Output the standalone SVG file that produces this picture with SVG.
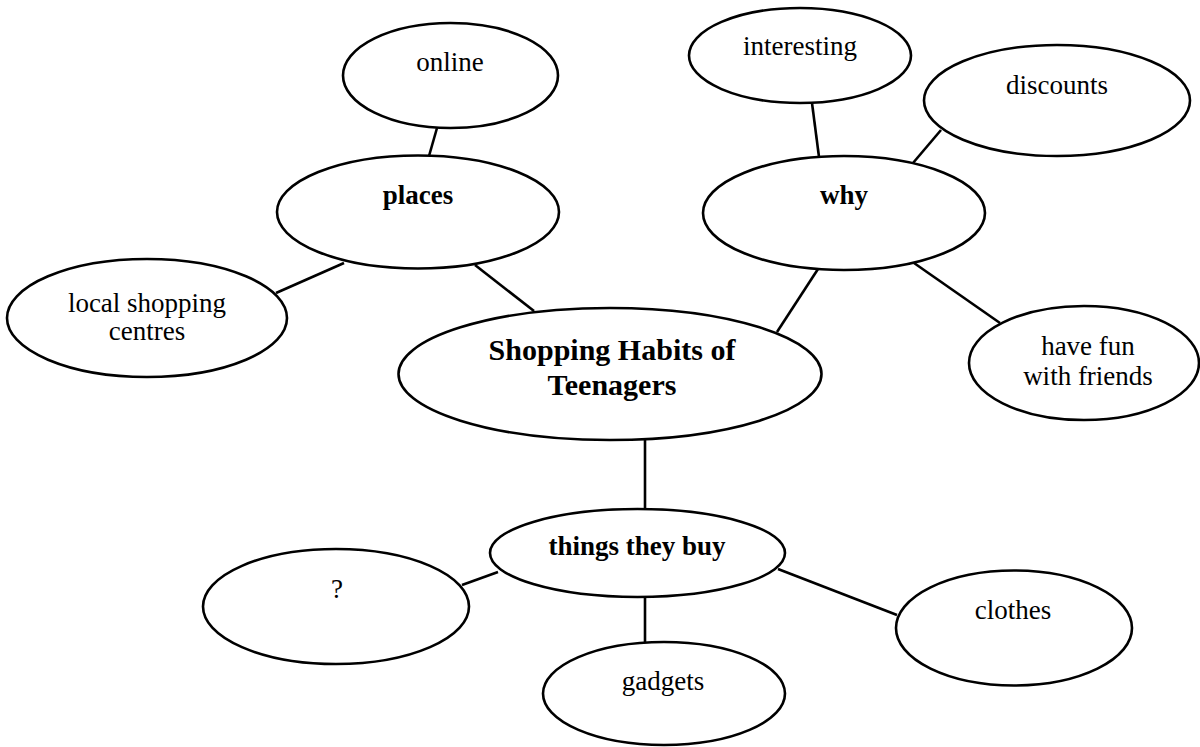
<svg xmlns="http://www.w3.org/2000/svg" width="1200" height="747" viewBox="0 0 1200 747">
<style>
.n{fill:#fff;stroke:#000;stroke-width:2.6}
.c{stroke:#000;stroke-width:2.6;fill:none}
text{font-family:"Liberation Serif","Times New Roman",serif;font-size:27px;fill:#000;text-anchor:middle}
.b{font-weight:bold}
.t{font-weight:bold;font-size:30px}
</style>
<rect width="1200" height="747" fill="#fff"/>
<g id="connectors">
<line class="c" x1="437" y1="128" x2="429" y2="156"/>
<line class="c" x1="344" y1="263" x2="276" y2="293"/>
<line class="c" x1="475" y1="265" x2="534" y2="311"/>
<line class="c" x1="812" y1="103" x2="819" y2="157"/>
<line class="c" x1="941" y1="130" x2="913" y2="163"/>
<line class="c" x1="818" y1="269" x2="777" y2="332"/>
<line class="c" x1="914" y1="263" x2="1000" y2="323"/>
<line class="c" x1="645" y1="440" x2="645" y2="509"/>
<line class="c" x1="498" y1="572" x2="462" y2="585"/>
<line class="c" x1="778" y1="569" x2="897" y2="615"/>
<line class="c" x1="645" y1="597" x2="645" y2="642"/>
</g>
<g id="online"><ellipse class="n" cx="450.5" cy="75.5" rx="107.5" ry="52.5"/><text x="450" y="71">online</text></g>
<g id="places"><ellipse class="n" cx="418" cy="212" rx="141" ry="56.5"/><text class="b" x="418" y="204">places</text></g>
<g id="local"><ellipse class="n" cx="147" cy="318" rx="140" ry="59"/><text x="147" y="312">local shopping</text><text x="147" y="340">centres</text></g>
<g id="interesting"><ellipse class="n" cx="800" cy="55.5" rx="111" ry="47.5"/><text x="800" y="55">interesting</text></g>
<g id="discounts"><ellipse class="n" cx="1057" cy="100.5" rx="133" ry="55.5"/><text x="1057" y="94">discounts</text></g>
<g id="why"><ellipse class="n" cx="844" cy="213" rx="141" ry="57"/><text class="b" x="844" y="204">why</text></g>
<g id="havefun"><ellipse class="n" cx="1084" cy="363" rx="115" ry="57"/><text x="1088" y="355">have fun</text><text x="1088" y="385">with friends</text></g>
<g id="center"><ellipse class="n" cx="610" cy="374" rx="211.5" ry="66"/><text class="t" x="612" y="360">Shopping Habits of</text><text class="t" x="612" y="395">Teenagers</text></g>
<g id="things"><ellipse class="n" cx="637.5" cy="553" rx="147.5" ry="44"/><text class="b" x="637" y="555">things they buy</text></g>
<g id="unknown"><ellipse class="n" cx="336" cy="606.5" rx="133" ry="57.5"/><text x="337" y="598">?</text></g>
<g id="clothes"><ellipse class="n" cx="1014" cy="628" rx="118" ry="57.5"/><text x="1013" y="619">clothes</text></g>
<g id="gadgets"><ellipse class="n" cx="664" cy="693.5" rx="121" ry="51.5"/><text x="663" y="690">gadgets</text></g>
</svg>
